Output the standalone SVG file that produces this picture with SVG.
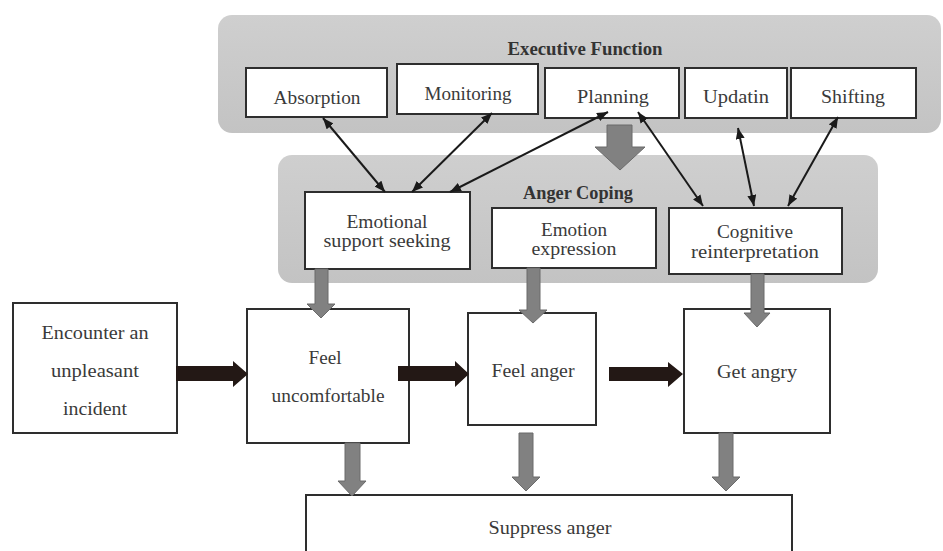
<svg xmlns="http://www.w3.org/2000/svg" width="943" height="551" viewBox="0 0 943 551">
<style>
.panel{fill:url(#pg);stroke:none}
.box{fill:#fff;stroke:#2e2e2e;stroke-width:2}
.t{font-family:"Liberation Serif","Times New Roman",serif;font-size:18px;fill:#3a3a3a;text-anchor:middle}
.b{font-weight:bold;fill:#333}
.thin{stroke:#1a1a1a;stroke-width:2;fill:none;marker-start:url(#ah);marker-end:url(#ah)}
.ga{fill:#818181;stroke:#6b6b6b;stroke-width:1}
.ba{fill:#231815;stroke:none}
</style>
<defs>
<linearGradient id="pg" x1="0" y1="0" x2="0" y2="1">
<stop offset="0" stop-color="#cfcfcf"/>
<stop offset="1" stop-color="#c3c3c3"/>
</linearGradient>
<marker id="ah" markerUnits="userSpaceOnUse" markerWidth="11" markerHeight="9" refX="11" refY="4.5" orient="auto-start-reverse" viewBox="0 0 11 9">
<path d="M0,0 L11,4.5 L0,9 z" fill="#1a1a1a"/>
</marker>
</defs>
<rect width="943" height="551" fill="#fff"/>

<g id="executive-function">
<rect class="panel" x="218" y="15" width="723" height="118" rx="14"/>
<text class="t b" x="585" y="55" textLength="155" lengthAdjust="spacingAndGlyphs">Executive Function</text>
</g>
<g id="anger-coping">
<rect class="panel" x="278" y="155" width="600" height="128" rx="14"/>
<text class="t b" x="578" y="199" textLength="110" lengthAdjust="spacingAndGlyphs">Anger Coping</text>
</g>

<g id="absorption"><rect class="box" x="246" y="68" width="141" height="49"/><text class="t" x="317" y="104" textLength="87" lengthAdjust="spacingAndGlyphs">Absorption</text></g>
<g id="monitoring"><rect class="box" x="397" y="64" width="141" height="50"/><text class="t" x="468" y="100" textLength="87" lengthAdjust="spacingAndGlyphs">Monitoring</text></g>
<g id="planning"><rect class="box" x="545" y="68" width="134" height="50"/><text class="t" x="613" y="103" textLength="72" lengthAdjust="spacingAndGlyphs">Planning</text></g>
<g id="updatin"><rect class="box" x="685" y="68" width="102" height="50"/><text class="t" x="736" y="103" textLength="66" lengthAdjust="spacingAndGlyphs">Updatin</text></g>
<g id="shifting"><rect class="box" x="791" y="68" width="125" height="50"/><text class="t" x="853" y="103" textLength="64" lengthAdjust="spacingAndGlyphs">Shifting</text></g>

<g id="emotional-support-seeking"><rect class="box" x="305" y="192" width="165" height="77"/><text class="t" x="387" y="228" textLength="81" lengthAdjust="spacingAndGlyphs">Emotional</text><text class="t" x="387" y="247" textLength="127" lengthAdjust="spacingAndGlyphs">support seeking</text></g>
<g id="emotion-expression"><rect class="box" x="492" y="208" width="164" height="60"/><text class="t" x="574" y="236" textLength="66" lengthAdjust="spacingAndGlyphs">Emotion</text><text class="t" x="574" y="255" textLength="85" lengthAdjust="spacingAndGlyphs">expression</text></g>
<g id="cognitive-reinterpretation"><rect class="box" x="669" y="208" width="173" height="66"/><text class="t" x="755" y="238" textLength="76" lengthAdjust="spacingAndGlyphs">Cognitive</text><text class="t" x="755" y="258" textLength="128" lengthAdjust="spacingAndGlyphs">reinterpretation</text></g>

<g id="encounter"><rect class="box" x="13" y="303" width="164" height="130"/><text class="t" x="95" y="339" textLength="107" lengthAdjust="spacingAndGlyphs">Encounter an</text><text class="t" x="95" y="377" textLength="88" lengthAdjust="spacingAndGlyphs">unpleasant</text><text class="t" x="95" y="415" textLength="64" lengthAdjust="spacingAndGlyphs">incident</text></g>
<g id="feel-uncomfortable"><rect class="box" x="247" y="309" width="162" height="134"/><text class="t" x="325" y="364" textLength="33" lengthAdjust="spacingAndGlyphs">Feel</text><text class="t" x="328" y="402" textLength="113" lengthAdjust="spacingAndGlyphs">uncomfortable</text></g>
<g id="feel-anger"><rect class="box" x="468" y="313" width="128" height="112"/><text class="t" x="533" y="377" textLength="83" lengthAdjust="spacingAndGlyphs">Feel anger</text></g>
<g id="get-angry"><rect class="box" x="684" y="309" width="146" height="124"/><text class="t" x="757" y="378" textLength="80" lengthAdjust="spacingAndGlyphs">Get angry</text></g>
<g id="suppress-anger"><rect class="box" x="306" y="495" width="486" height="70"/><text class="t" x="550" y="534" textLength="123" lengthAdjust="spacingAndGlyphs">Suppress anger</text></g>

<g id="connectors">
<line class="thin" x1="323" y1="118" x2="385" y2="192"/>
<line class="thin" x1="492" y1="113" x2="412" y2="192"/>
<line class="thin" x1="608" y1="112" x2="450" y2="192"/>
<line class="thin" x1="638" y1="112" x2="703" y2="206"/>
<line class="thin" x1="738" y1="128" x2="754" y2="206"/>
<line class="thin" x1="838" y1="117" x2="788" y2="206"/>

<polygon class="ga" points="607,125 632,125 632,147 645,147 620,170 595,147 607,147"/>
<polygon class="ga" points="315,269 328,269 328,304 335,304 321,318 307,304 315,304"/>
<polygon class="ga" points="527,268 540,268 540,310 547,310 533,323 519,310 527,310"/>
<polygon class="ga" points="751,274 764,274 764,313 770,313 757,327 744,313 751,313"/>
<polygon class="ga" points="345,443 360,443 360,481 366,481 352,496 338,481 345,481"/>
<polygon class="ga" points="519,433 533,433 533,477 540,477 526,491 512,477 519,477"/>
<polygon class="ga" points="719,433 733,433 733,477 740,477 726,491 712,477 719,477"/>

<polygon class="ba" points="176,366 233,366 233,361 248,374 233,387 233,381 176,381"/>
<polygon class="ba" points="398,366 455,366 455,361 469,374 455,387 455,381 398,381"/>
<polygon class="ba" points="609,367 668,367 668,362 683,374 668,387 668,381 609,381"/>
</g>
</svg>
